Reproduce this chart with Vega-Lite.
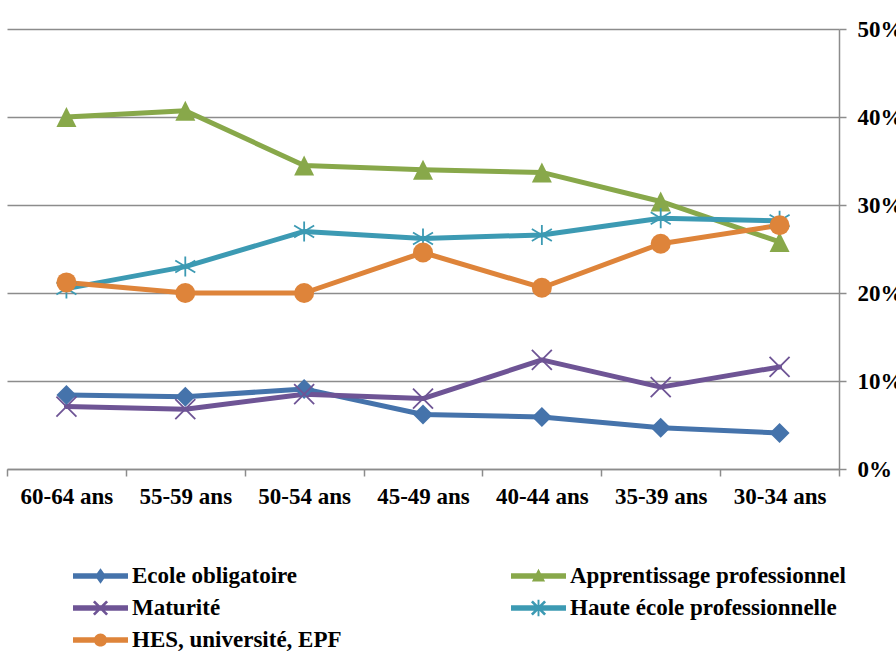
{
  "$schema": "https://vega.github.io/schema/vega-lite/v6.json",
  "autosize": {"type": "none"},
  "width": 832,
  "height": 440,
  "padding": {"left": 7, "top": 29, "right": 57, "bottom": 188},
  "background": "white",
  "config": {
    "view": {"stroke": null},
    "font": "Liberation Serif"
  },
  "data": {
    "values": [
      {"age": "60-64 ans", "serie": "Ecole obligatoire", "pct": 0.084},
      {"age": "55-59 ans", "serie": "Ecole obligatoire", "pct": 0.082},
      {"age": "50-54 ans", "serie": "Ecole obligatoire", "pct": 0.091},
      {"age": "45-49 ans", "serie": "Ecole obligatoire", "pct": 0.062},
      {"age": "40-44 ans", "serie": "Ecole obligatoire", "pct": 0.059},
      {"age": "35-39 ans", "serie": "Ecole obligatoire", "pct": 0.047},
      {"age": "30-34 ans", "serie": "Ecole obligatoire", "pct": 0.041},
      {"age": "60-64 ans", "serie": "Apprentissage professionnel", "pct": 0.400},
      {"age": "55-59 ans", "serie": "Apprentissage professionnel", "pct": 0.407},
      {"age": "50-54 ans", "serie": "Apprentissage professionnel", "pct": 0.345},
      {"age": "45-49 ans", "serie": "Apprentissage professionnel", "pct": 0.340},
      {"age": "40-44 ans", "serie": "Apprentissage professionnel", "pct": 0.337},
      {"age": "35-39 ans", "serie": "Apprentissage professionnel", "pct": 0.304},
      {"age": "30-34 ans", "serie": "Apprentissage professionnel", "pct": 0.258},
      {"age": "60-64 ans", "serie": "Maturité", "pct": 0.071},
      {"age": "55-59 ans", "serie": "Maturité", "pct": 0.068},
      {"age": "50-54 ans", "serie": "Maturité", "pct": 0.085},
      {"age": "45-49 ans", "serie": "Maturité", "pct": 0.080},
      {"age": "40-44 ans", "serie": "Maturité", "pct": 0.124},
      {"age": "35-39 ans", "serie": "Maturité", "pct": 0.093},
      {"age": "30-34 ans", "serie": "Maturité", "pct": 0.116},
      {"age": "60-64 ans", "serie": "Haute école professionnelle", "pct": 0.205},
      {"age": "55-59 ans", "serie": "Haute école professionnelle", "pct": 0.230},
      {"age": "50-54 ans", "serie": "Haute école professionnelle", "pct": 0.270},
      {"age": "45-49 ans", "serie": "Haute école professionnelle", "pct": 0.262},
      {"age": "40-44 ans", "serie": "Haute école professionnelle", "pct": 0.266},
      {"age": "35-39 ans", "serie": "Haute école professionnelle", "pct": 0.285},
      {"age": "30-34 ans", "serie": "Haute école professionnelle", "pct": 0.282},
      {"age": "60-64 ans", "serie": "HES, université, EPF", "pct": 0.212},
      {"age": "55-59 ans", "serie": "HES, université, EPF", "pct": 0.200},
      {"age": "50-54 ans", "serie": "HES, université, EPF", "pct": 0.200},
      {"age": "45-49 ans", "serie": "HES, université, EPF", "pct": 0.246},
      {"age": "40-44 ans", "serie": "HES, université, EPF", "pct": 0.206},
      {"age": "35-39 ans", "serie": "HES, université, EPF", "pct": 0.256},
      {"age": "30-34 ans", "serie": "HES, université, EPF", "pct": 0.277}
    ]
  },
  "encoding": {
    "x": {
      "field": "age",
      "type": "ordinal",
      "sort": ["60-64 ans", "55-59 ans", "50-54 ans", "45-49 ans", "40-44 ans", "35-39 ans", "30-34 ans"],
      "scale": {"type": "band", "paddingInner": 0, "paddingOuter": 0},
      "bandPosition": 0.5,
      "axis": {
        "title": null,
        "orient": "bottom",
        "domainColor": "#8c8c8c",
        "domainWidth": 1.5,
        "tickColor": "#8c8c8c",
        "tickWidth": 1.5,
        "tickSize": 7,
        "tickBand": "extent",
        "labelAngle": 0,
        "labelPadding": 9,
        "labelFont": "Liberation Serif",
        "labelFontSize": 23,
        "labelFontWeight": "bold",
        "labelColor": "#000000",
        "grid": false
      }
    },
    "y": {
      "field": "pct",
      "type": "quantitative",
      "scale": {"domain": [0, 0.5], "nice": false, "zero": true},
      "axis": {
        "title": null,
        "orient": "right",
        "values": [0, 0.1, 0.2, 0.3, 0.4, 0.5],
        "format": ".0%",
        "grid": true,
        "gridColor": "#8c8c8c",
        "gridWidth": 1.5,
        "domainColor": "#8c8c8c",
        "domainWidth": 1.5,
        "tickColor": "#8c8c8c",
        "tickWidth": 1.5,
        "tickSize": 7,
        "labelPadding": 11,
        "labelFont": "Liberation Serif",
        "labelFontSize": 23,
        "labelFontWeight": "bold",
        "labelColor": "#000000",
        "labelBaseline": "middle"
      }
    },
    "color": {
      "field": "serie",
      "type": "nominal",
      "scale": {
        "domain": ["Ecole obligatoire", "Apprentissage professionnel", "Maturité", "Haute école professionnelle", "HES, université, EPF"],
        "range": ["#4573ab", "#88a84a", "#6e5495", "#3c9ab3", "#de843a"]
      },
      "legend": {
        "title": null,
        "orient": "none",
        "direction": "horizontal",
        "legendX": 66,
        "legendY": 531,
        "columns": 2,
        "columnPadding": 169,
        "rowPadding": 0,
        "clipHeight": 32,
        "padding": 0,
        "symbolSize": 3025,
        "symbolStrokeWidth": 0,
        "labelOffset": 4,
        "labelLimit": 0,
        "labelFont": "Liberation Serif",
        "labelFontSize": 23,
        "labelFontWeight": "bold",
        "labelColor": "#000000",
        "encode": {
          "symbols": {
            "update": {
              "shape": {"signal": "datum.value === 'Ecole obligatoire' ? 'M-1,-0.1H1V0.1H-1Z M0,-0.28L0.2,0L0,0.28L-0.2,0Z' : datum.value === 'Apprentissage professionnel' ? 'M-1,-0.1H1V0.1H-1Z M0,-0.26L0.24,0.2L-0.24,0.2Z' : datum.value === 'Maturité' ? 'M-1,-0.1H1V0.1H-1Z M-0.205,-0.275L0.275,0.205L0.205,0.275L-0.275,-0.205Z M-0.275,0.205L0.205,-0.275L0.275,-0.205L-0.205,0.275Z' : datum.value === 'Haute école professionnelle' ? 'M-1,-0.1H1V0.1H-1Z M-0.205,-0.275L0.275,0.205L0.205,0.275L-0.275,-0.205Z M-0.275,0.205L0.205,-0.275L0.275,-0.205L-0.205,0.275Z M-0.035,-0.3L0.035,-0.3L0.035,0.3L-0.035,0.3Z' : 'M-1,-0.1H1V0.1H-1Z M-0.24,0A0.24,0.24 0 1,1 0.24,0A0.24,0.24 0 1,1 -0.24,0Z'"},
              "fill": {"scale": "color", "field": "value"},
              "stroke": {"value": "transparent"},
              "strokeWidth": {"value": 0},
              "opacity": {"value": 1},
              "size": {"value": 3025}
            }
          }
        }
      }
    }
  },
  "layer": [
    {
      "mark": {"type": "line", "strokeWidth": 5, "strokeJoin": "round", "strokeCap": "round"}
    },
    {
      "transform": [{"filter": "datum.serie === 'Ecole obligatoire'"}],
      "mark": {"type": "point", "shape": "diamond", "filled": true, "size": 400, "opacity": 1, "strokeWidth": 0}
    },
    {
      "transform": [{"filter": "datum.serie === 'Apprentissage professionnel'"}],
      "mark": {"type": "point", "shape": "M0,-1L1,1L-1,1Z", "filled": true, "size": 400, "opacity": 1, "strokeWidth": 0}
    },
    {
      "transform": [{"filter": "datum.serie === 'Maturité'"}],
      "mark": {"type": "point", "shape": "M-1,-1L1,1M-1,1L1,-1", "filled": false, "size": 400, "opacity": 1, "strokeWidth": 1.8}
    },
    {
      "transform": [{"filter": "datum.serie === 'Haute école professionnelle'"}],
      "mark": {"type": "point", "shape": "M-1,-0.6L1,0.6M-1,0.6L1,-0.6M0,-1L0,1", "filled": false, "size": 400, "opacity": 1, "strokeWidth": 1.8}
    },
    {
      "transform": [{"filter": "datum.serie === 'HES, université, EPF'"}],
      "mark": {"type": "point", "shape": "circle", "filled": true, "size": 400, "opacity": 1, "strokeWidth": 0}
    }
  ]
}
